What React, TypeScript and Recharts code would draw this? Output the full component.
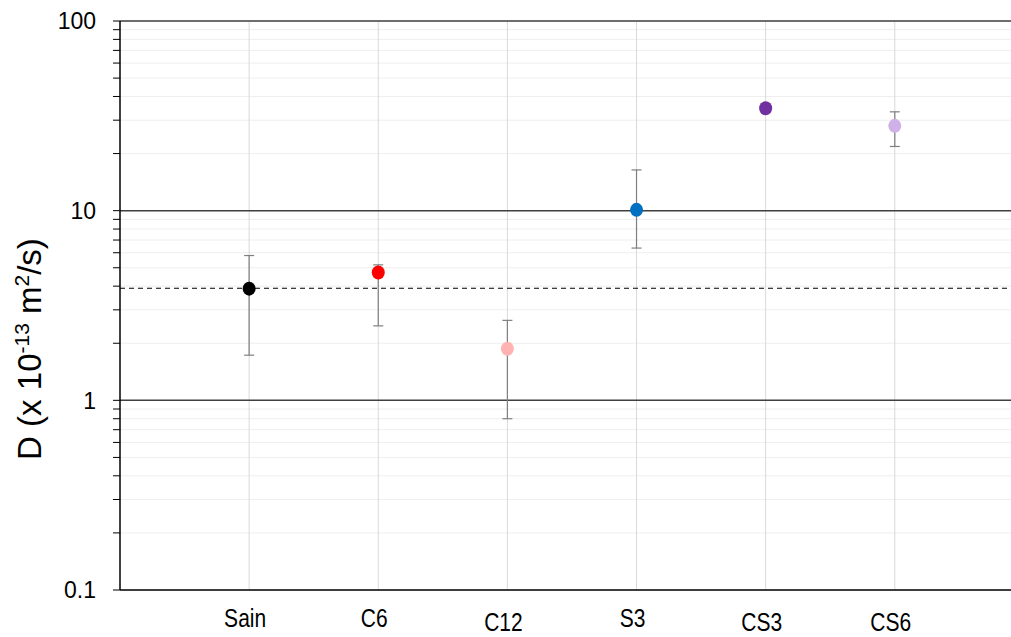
import React from 'react'
import { ScatterChart, Scatter, XAxis, YAxis, CartesianGrid, ErrorBar, ReferenceLine, Label } from 'recharts'

const categories = ['Sain', 'C6', 'C12', 'S3', 'CS3', 'CS6']
const means = [3.88, 4.72, 1.87, 10.1, 34.7, 28.0]
const lows = [1.73, 2.47, 0.8, 6.35, 33.0, 21.8]
const highs = [5.8, 5.18, 2.64, 16.4, 36.5, 33.2]
const colors = ['#000000', '#ff0000', '#ffb3b3', '#0070c0', '#7030a0', '#cfb0e8']

const xTicks = [1, 2, 3, 4, 5, 6]
const yTicks = [
  0.1, 0.2, 0.3, 0.4, 0.5, 0.6, 0.7, 0.8, 0.9,
  1, 2, 3, 4, 5, 6, 7, 8, 9,
  10, 20, 30, 40, 50, 60, 70, 80, 90,
  100,
]
const yLabels = [0.1, 1, 10, 100]
const majorLines = [1, 10, 100]
const refValue = 3.9

// label drop under the axis, Excel staggered them a bit
const labelDrop = [0, 0, 4, 0, 4, 4]

const data = categories.map((name, i) => ({
  x: i + 1,
  y: means[i],
  err: [means[i] - lows[i], highs[i] - means[i]],
  color: colors[i],
  name,
}))

const FONT = '"Liberation Sans", Arial, sans-serif'

const XTick = (props: any) => {
  const { x, y, payload } = props
  const i = payload.value - 1
  if (i < 0 || i >= categories.length) return <g />
  return (
    <text
      transform={`translate(${x - 4},${y + 37 + labelDrop[i]}) scale(0.84,1)`}
      textAnchor="middle"
      fontFamily={FONT}
      fontSize={25}
      fill="#000"
    >
      {categories[i]}
    </text>
  )
}

const YTick = (props: any) => {
  const { x, y, payload } = props
  if (!yLabels.includes(payload.value)) return <g />
  return (
    <text x={x} y={y} dy="0.36em" textAnchor="end" fontFamily={FONT} fontSize={23} fill="#000">
      {payload.value}
    </text>
  )
}

const Dot = (props: any) => {
  const { cx, cy, payload } = props
  return <ellipse cx={cx} cy={cy} rx={6.5} ry={7} fill={payload.color} />
}

const App = () => {
  return (
    <div style={{ position: 'absolute', left: 0, top: 0, width: 1011, height: 637, background: '#fff' }}>
      <ScatterChart width={1011} height={637} margin={{ top: 21, right: 0, bottom: 0, left: 0 }}>
        <CartesianGrid vertical={false} stroke="#eeeeee" />
        <XAxis
          dataKey="x"
          type="number"
          domain={[0, 6.9]}
          allowDataOverflow
          ticks={xTicks}
          height={47}
          tickSize={0}
          tickMargin={0}
          tick={<XTick />}
          axisLine={{ stroke: '#000', strokeWidth: 1.5 }}
          tickLine={false}
        />
        <YAxis
          dataKey="y"
          scale="log"
          domain={[0.1, 100]}
          allowDataOverflow
          ticks={yTicks}
          interval={0}
          width={120}
          tickSize={7}
          tickMargin={17}
          tick={<YTick />}
          axisLine={{ stroke: '#000', strokeWidth: 1.5 }}
          tickLine={{ stroke: '#000' }}
        >
          <Label
            content={() => (
              <text
                transform="translate(41,349) rotate(-90)"
                textAnchor="middle"
                fontFamily={FONT}
                fontSize={33}
                fill="#000"
              >
                D (x 10
                <tspan dy={-12} fontSize={21}>-13</tspan>
                <tspan dy={12}> m</tspan>
                <tspan dy={-12} fontSize={21}>2</tspan>
                <tspan dy={12}>/s)</tspan>
              </text>
            )}
          />
        </YAxis>
        {xTicks.map((v) => (
          <ReferenceLine key={`v${v}`} x={v} stroke="#d9d9d9" />
        ))}
        {majorLines.map((v) => (
          <ReferenceLine key={v} y={v} stroke="#404040" strokeWidth={1.5} />
        ))}
        <ReferenceLine y={refValue} stroke="#000" strokeWidth={1.2} strokeDasharray="5 4" />
        <Scatter data={data} shape={<Dot />} isAnimationActive={false}>
          <ErrorBar dataKey="err" direction="y" width={5} stroke="#7f7f7f" strokeWidth={1.2} />
        </Scatter>
      </ScatterChart>
    </div>
  )
}

export default App
